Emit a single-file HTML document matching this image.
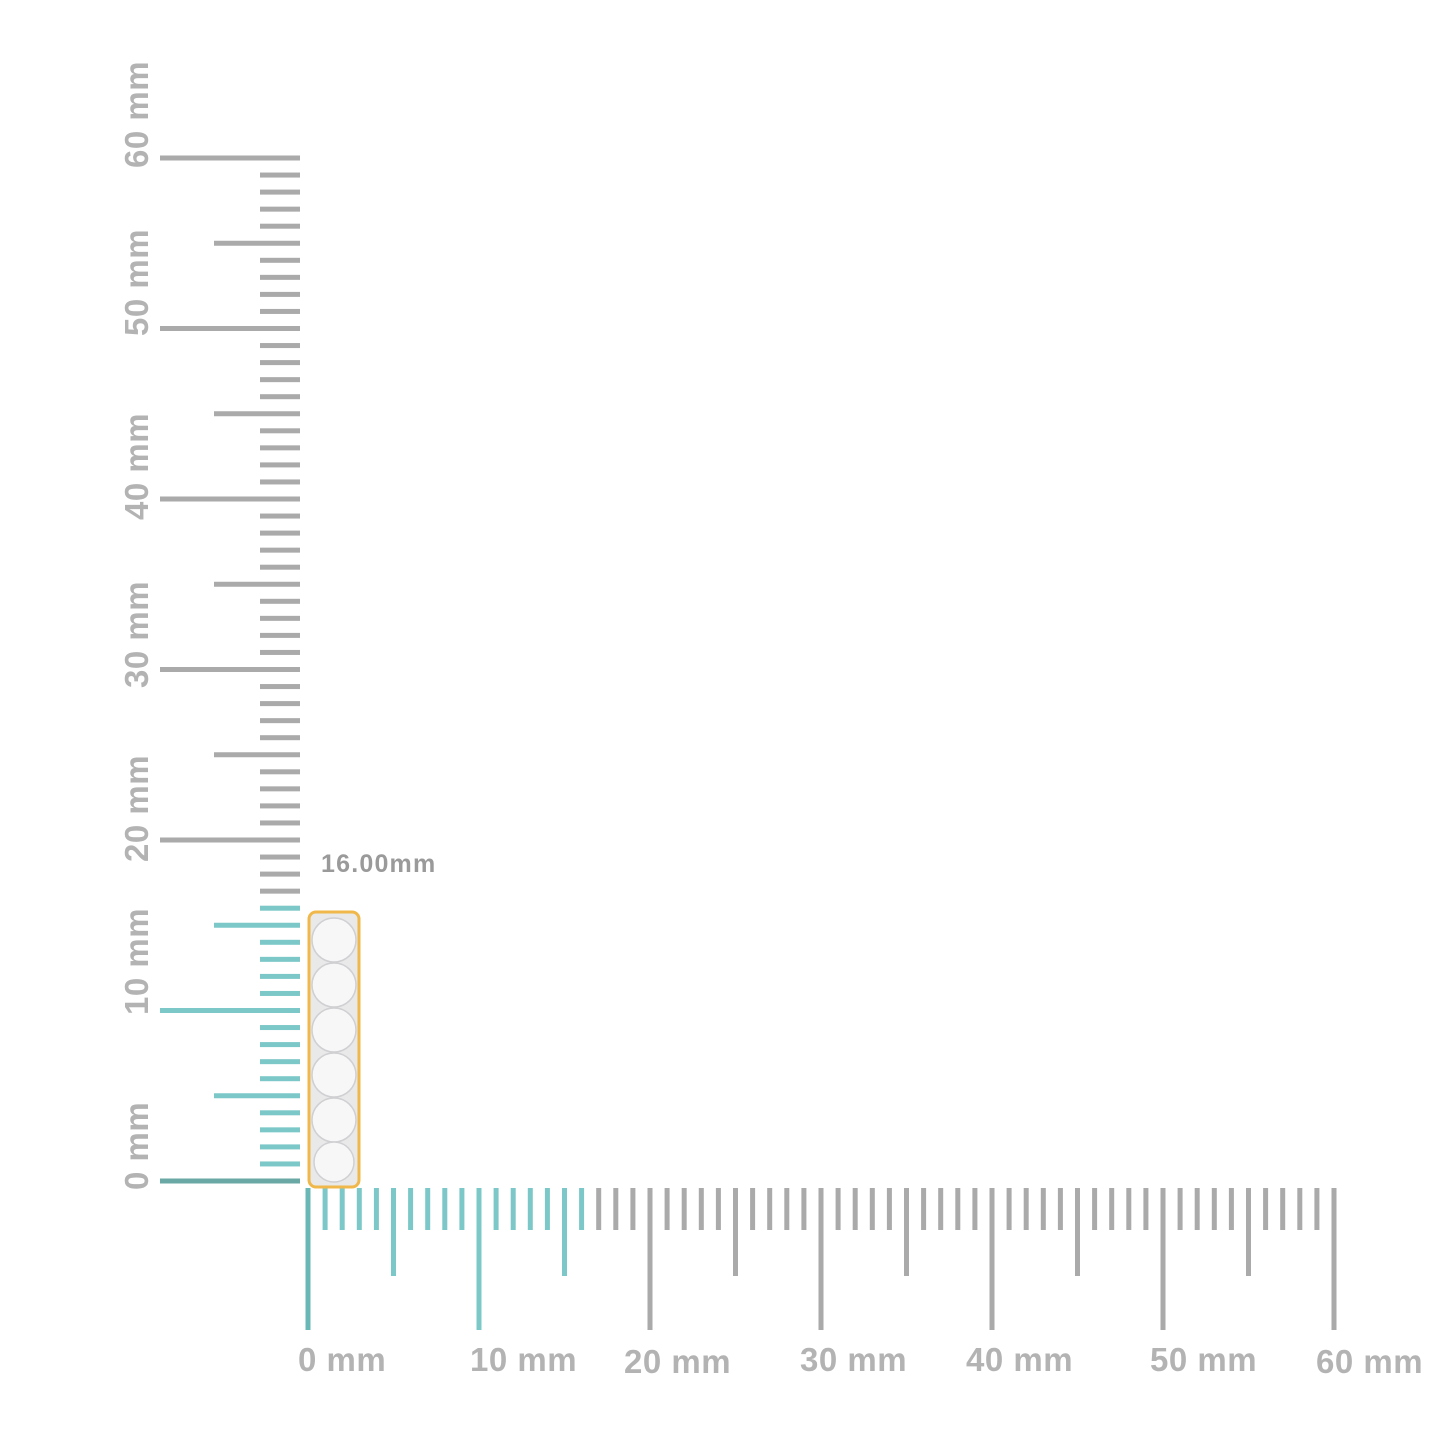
<!DOCTYPE html>
<html><head><meta charset="utf-8"><style>
html,body{margin:0;padding:0;background:#fff;}
svg{display:block}
text{font-family:"Liberation Sans",sans-serif;font-weight:bold;fill:#b3b3b3;}
</style></head><body>
<svg width="1445" height="1445" viewBox="0 0 1445 1445" xmlns="http://www.w3.org/2000/svg">
<g id="v"></g><g id="h"></g>
<script>
var ns="http://www.w3.org/2000/svg";
var v=document.getElementById('v'),h=document.getElementById('h');
function r(p,x,y,w,hh,c){var e=document.createElementNS(ns,'rect');e.setAttribute('x',x);e.setAttribute('y',y);e.setAttribute('width',w);e.setAttribute('height',hh);e.setAttribute('fill',c);p.appendChild(e);}
for(var i=0;i<=60;i++){
 var teal=i<=16;
 var c=teal?'#7cc8c8':'#aaaaaa';
 if(i==0)c='#6aa8a6';
 var y=1181-i*17.05;
 var x0=i%10==0?160:(i%5==0?214:260);
 r(v,x0,y-2.5,300-x0,5,c);
 var x=308+i*17.1;
 var y1=i%10==0?1330:(i%5==0?1276:1230);
 if(i==0)c='#6ab8b6';
 r(h,x-2.5,1188,5,y1-1188,c);
}
</script>
<g font-size="33" letter-spacing="0.5">
<text x="298" y="1371">0 mm</text>
<text x="470" y="1371">10 mm</text>
<text x="624" y="1373">20 mm</text>
<text x="800" y="1371">30 mm</text>
<text x="966" y="1371">40 mm</text>
<text x="1150" y="1371">50 mm</text>
<text x="1316" y="1373">60 mm</text>
<text transform="translate(148,1190) rotate(-90)">0 mm</text>
<text transform="translate(148,1015) rotate(-90)">10 mm</text>
<text transform="translate(148,862) rotate(-90)">20 mm</text>
<text transform="translate(148,688) rotate(-90)">30 mm</text>
<text transform="translate(148,520) rotate(-90)">40 mm</text>
<text transform="translate(148,336) rotate(-90)">50 mm</text>
<text transform="translate(148,168) rotate(-90)">60 mm</text>
</g>
<text x="321" y="872" font-size="25" letter-spacing="1.2" style="fill:#9a9a9a">16.00mm</text>
<rect x="309" y="912" width="50" height="275" rx="7" fill="#e9e9ea" stroke="#f0b84a" stroke-width="3"/>
<g fill="#f7f7f8" stroke="#d0d0d3" stroke-width="1.5">
<circle cx="334" cy="940" r="22"/><circle cx="334" cy="985" r="22"/><circle cx="334" cy="1030" r="22"/>
<circle cx="334" cy="1075" r="22"/><circle cx="334" cy="1120" r="22"/><circle cx="334" cy="1162" r="20"/>
</g>
</svg>
</body></html>
